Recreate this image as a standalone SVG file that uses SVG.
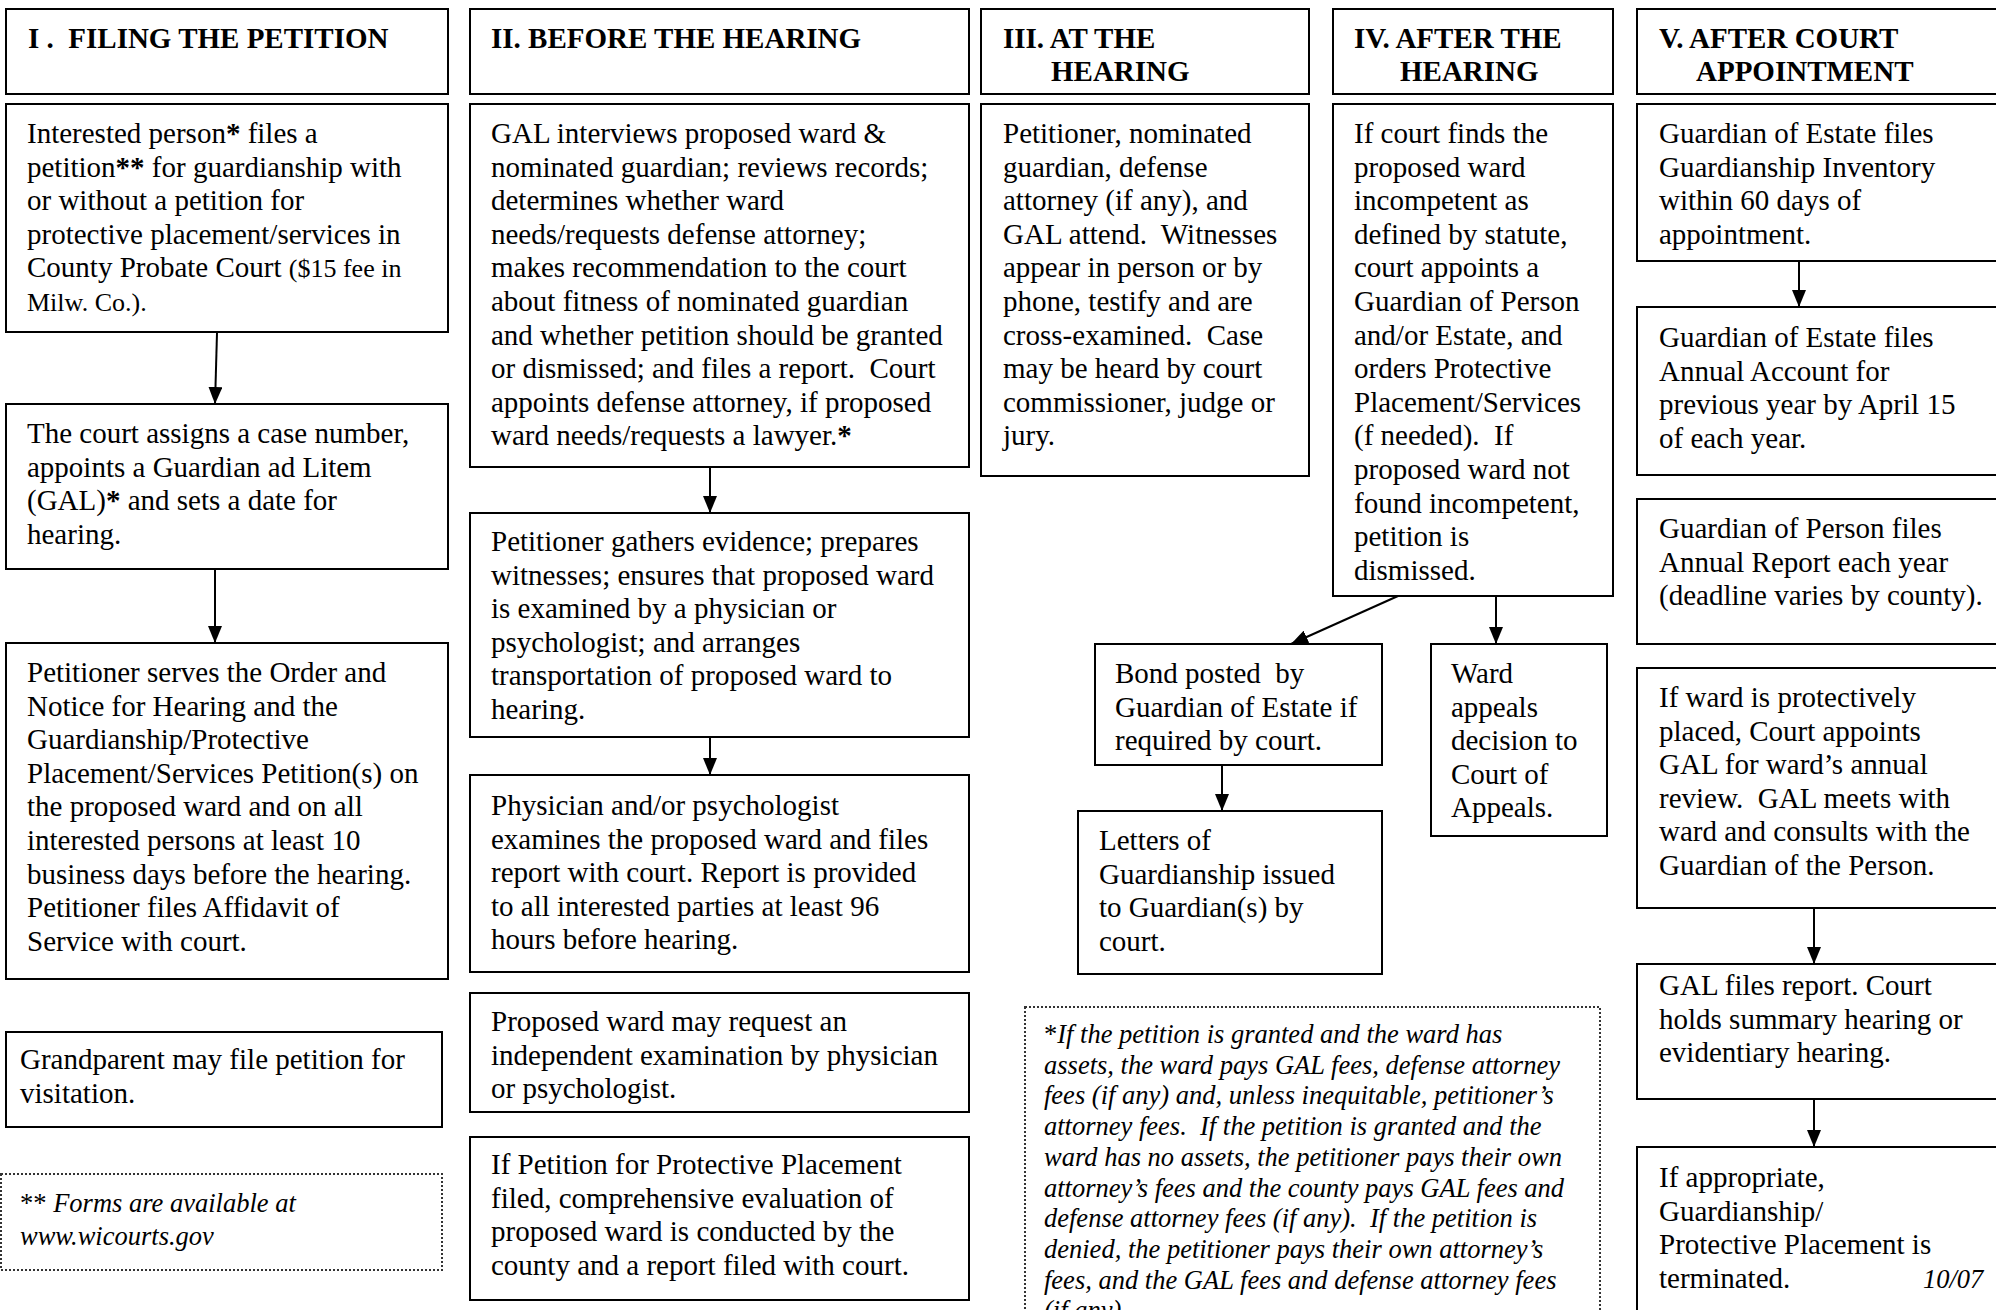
<svg xmlns="http://www.w3.org/2000/svg" width="1996" height="1310" viewBox="0 0 1996 1310">
<defs>
<marker id="ah" viewBox="0 0 17 14" refX="17" refY="7" markerWidth="17" markerHeight="14" markerUnits="userSpaceOnUse" orient="auto">
<path d="M0,0 L17,7 L0,14 z" fill="#000"/>
</marker>
<style>
rect.b{fill:#fff;stroke:#000;stroke-width:2}
rect.d{fill:#fff;stroke:#333;stroke-width:2;stroke-dasharray:2 2}
text{font-family:"Liberation Serif","Times New Roman",serif;font-size:29px;fill:#000;white-space:pre}
text.h{font-weight:bold}
text.i{font-style:italic;font-size:26.5px}
.s{font-size:26px}
.a{font-weight:bold}
.n{font-style:normal}
line.c{stroke:#000;stroke-width:2;marker-end:url(#ah)}
</style>
</defs>
<rect width="1996" height="1310" fill="#fff"/>

<g id="connectors">
<line class="c" x1="217" y1="333" x2="215" y2="404"/>
<line class="c" x1="215" y1="570" x2="215" y2="643"/>
<line class="c" x1="710" y1="468" x2="710" y2="513"/>
<line class="c" x1="710" y1="737" x2="710" y2="775"/>
<line class="c" x1="1398" y1="596" x2="1291" y2="644"/>
<line class="c" x1="1496" y1="596" x2="1496" y2="644"/>
<line class="c" x1="1222" y1="766" x2="1222" y2="811"/>
<line class="c" x1="1799" y1="262" x2="1799" y2="307"/>
<line class="c" x1="1814" y1="909" x2="1814" y2="964"/>
<line class="c" x1="1814" y1="1100" x2="1814" y2="1147"/>
</g>

<g id="h1"><rect class="b" x="6" y="9" width="442" height="85"/>
<text class="h" x="28" y="48">I .  FILING THE PETITION</text></g>
<g id="h2"><rect class="b" x="470" y="9" width="499" height="85"/>
<text class="h" x="491" y="48">II. BEFORE THE HEARING</text></g>
<g id="h3"><rect class="b" x="981" y="9" width="328" height="85"/>
<text class="h" x="1003" y="48">III. AT THE<tspan x="1051" dy="33">HEARING</tspan></text></g>
<g id="h4"><rect class="b" x="1333" y="9" width="280" height="85"/>
<text class="h" x="1354" y="48">IV. AFTER THE<tspan x="1400" dy="33">HEARING</tspan></text></g>
<g id="h5"><rect class="b" x="1637" y="9" width="380" height="85"/>
<text class="h" x="1659" y="48">V. AFTER COURT<tspan x="1696" dy="33">APPOINTMENT</tspan></text></g>

<g id="n1a"><rect class="b" x="6" y="104" width="442" height="228"/>
<text x="27" y="143">Interested person<tspan class="a">*</tspan> files a<tspan x="27" dy="33.6">petition<tspan class="a">**</tspan> for guardianship with</tspan><tspan x="27" dy="33.6">or without a petition for</tspan><tspan x="27" dy="33.6">protective placement/services in</tspan><tspan x="27" dy="33.6">County Probate Court <tspan class="s">($15 fee in</tspan></tspan><tspan x="27" dy="33.6" class="s">Milw. Co.).</tspan></text></g>

<g id="n1b"><rect class="b" x="6" y="404" width="442" height="165"/>
<text x="27" y="443">The court assigns a case number,<tspan x="27" dy="33.6">appoints a Guardian ad Litem</tspan><tspan x="27" dy="33.6">(GAL)<tspan class="a">*</tspan> and sets a date for</tspan><tspan x="27" dy="33.6">hearing.</tspan></text></g>

<g id="n1c"><rect class="b" x="6" y="643" width="442" height="336"/>
<text x="27" y="682">Petitioner serves the Order and<tspan x="27" dy="33.6">Notice for Hearing and the</tspan><tspan x="27" dy="33.6">Guardianship/Protective</tspan><tspan x="27" dy="33.6">Placement/Services Petition(s) on</tspan><tspan x="27" dy="33.6">the proposed ward and on all</tspan><tspan x="27" dy="33.6">interested persons at least 10</tspan><tspan x="27" dy="33.6">business days before the hearing.</tspan><tspan x="27" dy="33.6">Petitioner files Affidavit of</tspan><tspan x="27" dy="33.6">Service with court.</tspan></text></g>

<g id="n1d"><rect class="b" x="6" y="1032" width="436" height="95"/>
<text x="20" y="1069">Grandparent may file petition for<tspan x="20" dy="33.6">visitation.</tspan></text></g>

<g id="n1e"><rect class="d" x="1" y="1174" width="441" height="96"/>
<text class="i" x="20" y="1212"><tspan class="n">**</tspan> Forms are available at<tspan x="20" dy="33">www.wicourts.gov</tspan></text></g>

<g id="n2a"><rect class="b" x="470" y="104" width="499" height="363"/>
<text x="491" y="143">GAL interviews proposed ward &amp;<tspan x="491" dy="33.6">nominated guardian; reviews records;</tspan><tspan x="491" dy="33.6">determines whether ward</tspan><tspan x="491" dy="33.6">needs/requests defense attorney;</tspan><tspan x="491" dy="33.6">makes recommendation to the court</tspan><tspan x="491" dy="33.6">about fitness of nominated guardian</tspan><tspan x="491" dy="33.6">and whether petition should be granted</tspan><tspan x="491" dy="33.6">or dismissed; and files a report.  Court</tspan><tspan x="491" dy="33.6">appoints defense attorney, if proposed</tspan><tspan x="491" dy="33.6">ward needs/requests a lawyer.<tspan class="a">*</tspan></tspan></text></g>

<g id="n2b"><rect class="b" x="470" y="513" width="499" height="224"/>
<text x="491" y="551">Petitioner gathers evidence; prepares<tspan x="491" dy="33.6">witnesses; ensures that proposed ward</tspan><tspan x="491" dy="33.6">is examined by a physician or</tspan><tspan x="491" dy="33.6">psychologist; and arranges</tspan><tspan x="491" dy="33.6">transportation of proposed ward to</tspan><tspan x="491" dy="33.6">hearing.</tspan></text></g>

<g id="n2c"><rect class="b" x="470" y="775" width="499" height="197"/>
<text x="491" y="815">Physician and/or psychologist<tspan x="491" dy="33.6">examines the proposed ward and files</tspan><tspan x="491" dy="33.6">report with court. Report is provided</tspan><tspan x="491" dy="33.6">to all interested parties at least 96</tspan><tspan x="491" dy="33.6">hours before hearing.</tspan></text></g>

<g id="n2d"><rect class="b" x="470" y="993" width="499" height="119"/>
<text x="491" y="1031">Proposed ward may request an<tspan x="491" dy="33.6">independent examination by physician</tspan><tspan x="491" dy="33.6">or psychologist.</tspan></text></g>

<g id="n2e"><rect class="b" x="470" y="1137" width="499" height="163"/>
<text x="491" y="1174">If Petition for Protective Placement<tspan x="491" dy="33.6">filed, comprehensive evaluation of</tspan><tspan x="491" dy="33.6">proposed ward is conducted by the</tspan><tspan x="491" dy="33.6">county and a report filed with court.</tspan></text></g>

<g id="n3a"><rect class="b" x="981" y="104" width="328" height="372"/>
<text x="1003" y="143">Petitioner, nominated<tspan x="1003" dy="33.6">guardian, defense</tspan><tspan x="1003" dy="33.6">attorney (if any), and</tspan><tspan x="1003" dy="33.6">GAL attend.  Witnesses</tspan><tspan x="1003" dy="33.6">appear in person or by</tspan><tspan x="1003" dy="33.6">phone, testify and are</tspan><tspan x="1003" dy="33.6">cross-examined.  Case</tspan><tspan x="1003" dy="33.6">may be heard by court</tspan><tspan x="1003" dy="33.6">commissioner, judge or</tspan><tspan x="1003" dy="33.6">jury.</tspan></text></g>

<g id="n4a"><rect class="b" x="1333" y="104" width="280" height="492"/>
<text x="1354" y="143">If court finds the<tspan x="1354" dy="33.6">proposed ward</tspan><tspan x="1354" dy="33.6">incompetent as</tspan><tspan x="1354" dy="33.6">defined by statute,</tspan><tspan x="1354" dy="33.6">court appoints a</tspan><tspan x="1354" dy="33.6">Guardian of Person</tspan><tspan x="1354" dy="33.6">and/or Estate, and</tspan><tspan x="1354" dy="33.6">orders Protective</tspan><tspan x="1354" dy="33.6">Placement/Services</tspan><tspan x="1354" dy="33.6">(f needed).  If</tspan><tspan x="1354" dy="33.6">proposed ward not</tspan><tspan x="1354" dy="33.6">found incompetent,</tspan><tspan x="1354" dy="33.6">petition is</tspan><tspan x="1354" dy="33.6">dismissed.</tspan></text></g>

<g id="n4b"><rect class="b" x="1095" y="644" width="287" height="121"/>
<text x="1115" y="683">Bond posted  by<tspan x="1115" dy="33.6">Guardian of Estate if</tspan><tspan x="1115" dy="33.6">required by court.</tspan></text></g>

<g id="n4c"><rect class="b" x="1078" y="811" width="304" height="163"/>
<text x="1099" y="850">Letters of<tspan x="1099" dy="33.6">Guardianship issued</tspan><tspan x="1099" dy="33.6">to Guardian(s) by</tspan><tspan x="1099" dy="33.6">court.</tspan></text></g>

<g id="n4d"><rect class="b" x="1431" y="644" width="176" height="192"/>
<text x="1451" y="683">Ward<tspan x="1451" dy="33.6">appeals</tspan><tspan x="1451" dy="33.6">decision to</tspan><tspan x="1451" dy="33.6">Court of</tspan><tspan x="1451" dy="33.6">Appeals.</tspan></text></g>

<g id="n4e"><rect class="d" x="1025" y="1007" width="575" height="320"/>
<text class="i" x="1044" y="1043"><tspan class="n">*</tspan>If the petition is granted and the ward has<tspan x="1044" dy="30.7">assets, the ward pays GAL fees, defense attorney</tspan><tspan x="1044" dy="30.7">fees (if any) and, unless inequitable, petitioner’s</tspan><tspan x="1044" dy="30.7">attorney fees.  If the petition is granted and the</tspan><tspan x="1044" dy="30.7">ward has no assets, the petitioner pays their own</tspan><tspan x="1044" dy="30.7">attorney’s fees and the county pays GAL fees and</tspan><tspan x="1044" dy="30.7">defense attorney fees (if any).  If the petition is</tspan><tspan x="1044" dy="30.7">denied, the petitioner pays their own attorney’s</tspan><tspan x="1044" dy="30.7">fees, and the GAL fees and defense attorney fees</tspan><tspan x="1044" dy="30.7">(if any).</tspan></text></g>

<g id="n5a"><rect class="b" x="1637" y="104" width="380" height="157"/>
<text x="1659" y="143">Guardian of Estate files<tspan x="1659" dy="33.6">Guardianship Inventory</tspan><tspan x="1659" dy="33.6">within 60 days of</tspan><tspan x="1659" dy="33.6">appointment.</tspan></text></g>

<g id="n5b"><rect class="b" x="1637" y="307" width="380" height="168"/>
<text x="1659" y="347">Guardian of Estate files<tspan x="1659" dy="33.6">Annual Account for</tspan><tspan x="1659" dy="33.6">previous year by April 15</tspan><tspan x="1659" dy="33.6">of each year.</tspan></text></g>

<g id="n5c"><rect class="b" x="1637" y="499" width="380" height="145"/>
<text x="1659" y="538">Guardian of Person files<tspan x="1659" dy="33.6">Annual Report each year</tspan><tspan x="1659" dy="33.6">(deadline varies by county).</tspan></text></g>

<g id="n5d"><rect class="b" x="1637" y="668" width="380" height="240"/>
<text x="1659" y="707">If ward is protectively<tspan x="1659" dy="33.6">placed, Court appoints</tspan><tspan x="1659" dy="33.6">GAL for ward’s annual</tspan><tspan x="1659" dy="33.6">review.  GAL meets with</tspan><tspan x="1659" dy="33.6">ward and consults with the</tspan><tspan x="1659" dy="33.6">Guardian of the Person.</tspan></text></g>

<g id="n5e"><rect class="b" x="1637" y="964" width="380" height="135"/>
<text x="1659" y="995">GAL files report. Court<tspan x="1659" dy="33.6">holds summary hearing or</tspan><tspan x="1659" dy="33.6">evidentiary hearing.</tspan></text></g>

<g id="n5f"><rect class="b" x="1637" y="1147" width="380" height="200"/>
<text x="1659" y="1187">If appropriate,<tspan x="1659" dy="33.6">Guardianship/</tspan><tspan x="1659" dy="33.6">Protective Placement is</tspan><tspan x="1659" dy="33.6">terminated.</tspan></text>
<text class="i" x="1923" y="1288">10/07</text></g>
</svg>
